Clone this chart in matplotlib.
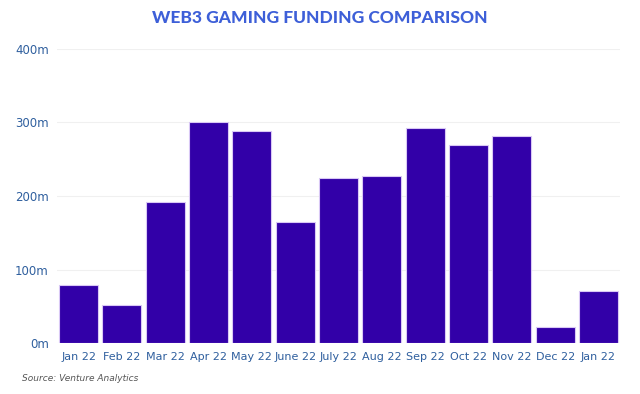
import numpy as np
import matplotlib.pyplot as plt

months = ['Jan 22', 'Feb 22', 'Mar 22', 'Apr 22', 'May 22', 'June 22', 'July 22',
          'Aug 22', 'Sep 22', 'Oct 22', 'Nov 22', 'Dec 22', 'Jan 22']
funding = [79, 52, 192, 301, 288, 165, 224, 227, 292, 269, 282, 22, 71]
yticks = [0, 100, 200, 300, 400]
ylabels = ['0m', '100m', '200m', '300m', '400m']

fig = plt.figure(figsize=(6.4, 3.94), dpi=100)
ax = fig.add_axes([0.089, 0.129, 0.88, 0.747])

ax.bar(range(len(funding)), funding, width=0.9, color='#3200a8',
       edgecolor='#d9c8f5', linewidth=0.8, zorder=3)
ax.set_xlim(-0.5, len(funding) - 0.5)
ax.set_ylim(0, 400)
ax.set_yticks(yticks)
ax.set_yticklabels(ylabels, color='#2f5f9e', size=8.5)
ax.set_xticks(range(len(months)))
ax.set_xticklabels(months, color='#2f5f9e', size=8)
ax.tick_params(length=0, pad=6)
ax.grid(axis='y', color='#f0f0f0', linewidth=0.8, zorder=0)
for s in ax.spines.values():
    s.set_visible(False)

fig.text(0.5, 0.955, 'WEB3 GAMING FUNDING COMPARISON', ha='center', va='center',
         color='#3d5fd8', size=12.5, weight='black', family='Lato')
fig.text(0.035, 0.04, 'Source: Venture Analytics', ha='left', va='center',
         color='#555555', size=6.5, style='italic')

fig.savefig('out.png')
